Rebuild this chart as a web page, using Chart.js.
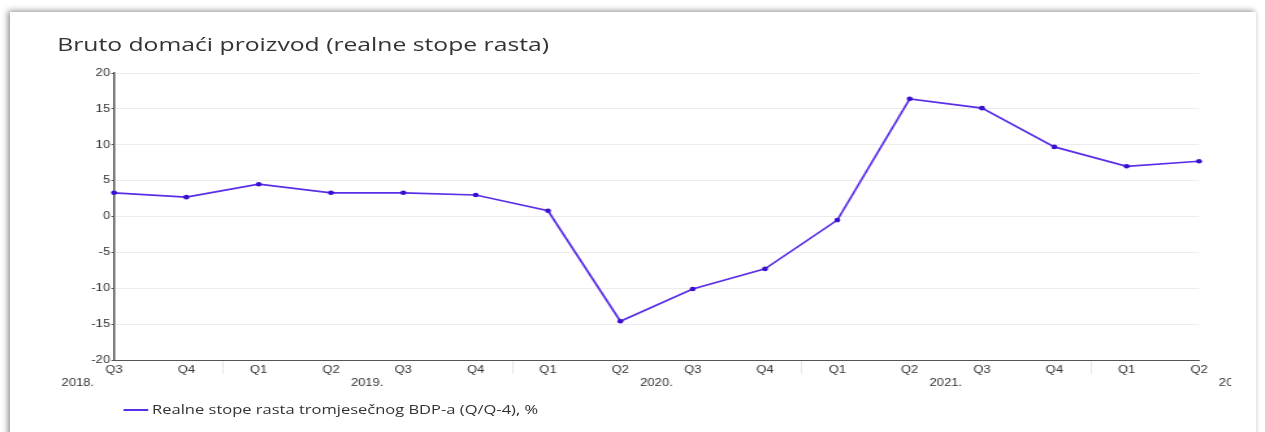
<!doctype html>
<html lang="hr">
  <head>
    <meta charset="UTF-8" />
    <title>Bruto domaći proizvod</title>
    <script src="https://cdn.jsdelivr.net/npm/chart.js@4.4.0/dist/chart.umd.min.js"></script>
    <style>
      html, body { margin: 0; padding: 0; background: #fff; }
      body { width: 1265px; height: 432px; position: relative; overflow: hidden; }
      .card {
        position: absolute; left: 10px; top: 12px; width: 1246px; height: 440px;
        background: #fff; box-shadow: -2px -1px 6px rgba(0,0,0,0.45);
      }
      /* the source chart is drawn 973px wide and stretched out horizontally */
      .stretch {
        position: absolute; left: 0; top: 0; width: 973px; height: 432px;
        transform: scaleX(1.3); transform-origin: 0 0;
      }
      .title {
        position: absolute; left: 44px; top: 31px; margin: 0; white-space: nowrap;
        font: 19px "Open Sans", sans-serif; color: #333; font-weight: 400;
      }
      .legend {
        position: absolute; left: 95px; top: 400px; white-space: nowrap;
        font: 12.7px "Open Sans", sans-serif; color: #333;
      }
      .legend span.swatch {
        display: inline-block; width: 19px; height: 2px; background: #5a2ee6;
        vertical-align: middle; margin-right: 3px; position: relative; top: -1px;
      }
      .chart-wrap { position: absolute; left: 0; top: 60px; width: 973px; height: 335px; }
    </style>
  </head>
  <body>
    <div class="card"></div>
    <div class="stretch">
      <h1 class="title">Bruto domaći proizvod (realne stope rasta)</h1>
      <div class="chart-wrap"><canvas id="gdpChart"></canvas></div>
      <div class="legend"><span class="swatch"></span>Realne stope rasta tromjesečnog BDP-a (Q/Q-4), %</div>
    </div>
    <script>
    // quarters from 2018 Q3 to 2022 Q2
    const quarters = ['Q3', 'Q4', 'Q1', 'Q2', 'Q3', 'Q4', 'Q1', 'Q2', 'Q3', 'Q4', 'Q1', 'Q2', 'Q3', 'Q4', 'Q1', 'Q2'];
    const growth = [3.3, 2.7, 4.5, 3.3, 3.3, 3.0, 0.8, -14.6, -10.1, -7.3, -0.5, 16.4, 15.1, 9.7, 7.0, 7.7];
    const years = ['2018.', '2019.', '2020.', '2021.', '2022.'];
    const yearFirstIndex = [-2, 2, 6, 10, 14];
    const yTicks = [-20, -15, -10, -5, 0, 5, 10, 15, 20];

    const lineColor = '#5a2ee6';
    const tickFont = { family: '"Liberation Sans", Arial, sans-serif', size: 10 };

    // year labels under the quarter labels, centred on each group of four
    const yearLabels = {
        id: 'yearLabels',
        afterDraw(chart) {
            const x = chart.scales.x;
            const ctx = chart.ctx;
            ctx.save();
            ctx.beginPath();
            ctx.rect(0, 0, 947, chart.height);
            ctx.clip();
            // light group separators
            ctx.strokeStyle = '#e8e8e8';
            ctx.lineWidth = 1;
            yearFirstIndex.forEach(function (first) {
                const px = Math.round(x.getPixelForValue(first - 0.5)) + 0.5;
                if (px > x.left && px < x.right) {
                    ctx.beginPath();
                    ctx.moveTo(px, x.top + 1);
                    ctx.lineTo(px, x.top + 14);
                    ctx.stroke();
                }
            });
            ctx.fillStyle = '#333';
            ctx.font = '10px "Liberation Sans", Arial, sans-serif';
            ctx.textAlign = 'center';
            ctx.textBaseline = 'middle';
            years.forEach(function (label, i) {
                const px = x.getPixelForValue(yearFirstIndex[i] + 1.5);
                ctx.fillText(label, px, x.top + 23);
            });
            ctx.restore();
        }
    };

    new Chart(document.getElementById('gdpChart'), {
        type: 'line',
        data: {
            labels: quarters,
            datasets: [{
                label: 'Realne stope rasta tromjesečnog BDP-a (Q/Q-4), %',
                data: growth,
                borderColor: lineColor,
                backgroundColor: '#3a10d0',
                borderWidth: 1.7,
                pointRadius: 2.3,
                pointBorderWidth: 0,
                pointBackgroundColor: '#3a10d0',
                tension: 0,
                fill: false
            }]
        },
        options: {
            responsive: true,
            maintainAspectRatio: false,
            animation: false,
            layout: { padding: { left: 44, right: 50.7, top: 13, bottom: 0 } },
            plugins: {
                legend: { display: false },
                title: { display: false },
                tooltip: { enabled: false }
            },
            scales: {
                x: {
                    offset: false,
                    afterFit(scale) { scale.height = 35; },
                    grid: { display: false, drawTicks: false },
                    border: { color: '#555', width: 1 },
                    ticks: {
                        color: '#333',
                        padding: 4,
                        maxRotation: 0,
                        autoSkip: false,
                        font: tickFont
                    }
                },
                y: {
                    min: -20,
                    max: 20,
                    afterFit(scale) { scale.width = 43.7; },
                    afterBuildTicks(scale) { scale.ticks = yTicks.map(v => ({ value: v })); },
                    grid: { color: '#ececec', tickColor: '#555', tickLength: 2 },
                    border: { color: '#555', width: 1.5 },
                    ticks: {
                        color: '#333',
                        padding: 1,
                        font: tickFont
                    }
                }
            }
        },
        plugins: [yearLabels]
    });
    </script>
  </body>
</html>
